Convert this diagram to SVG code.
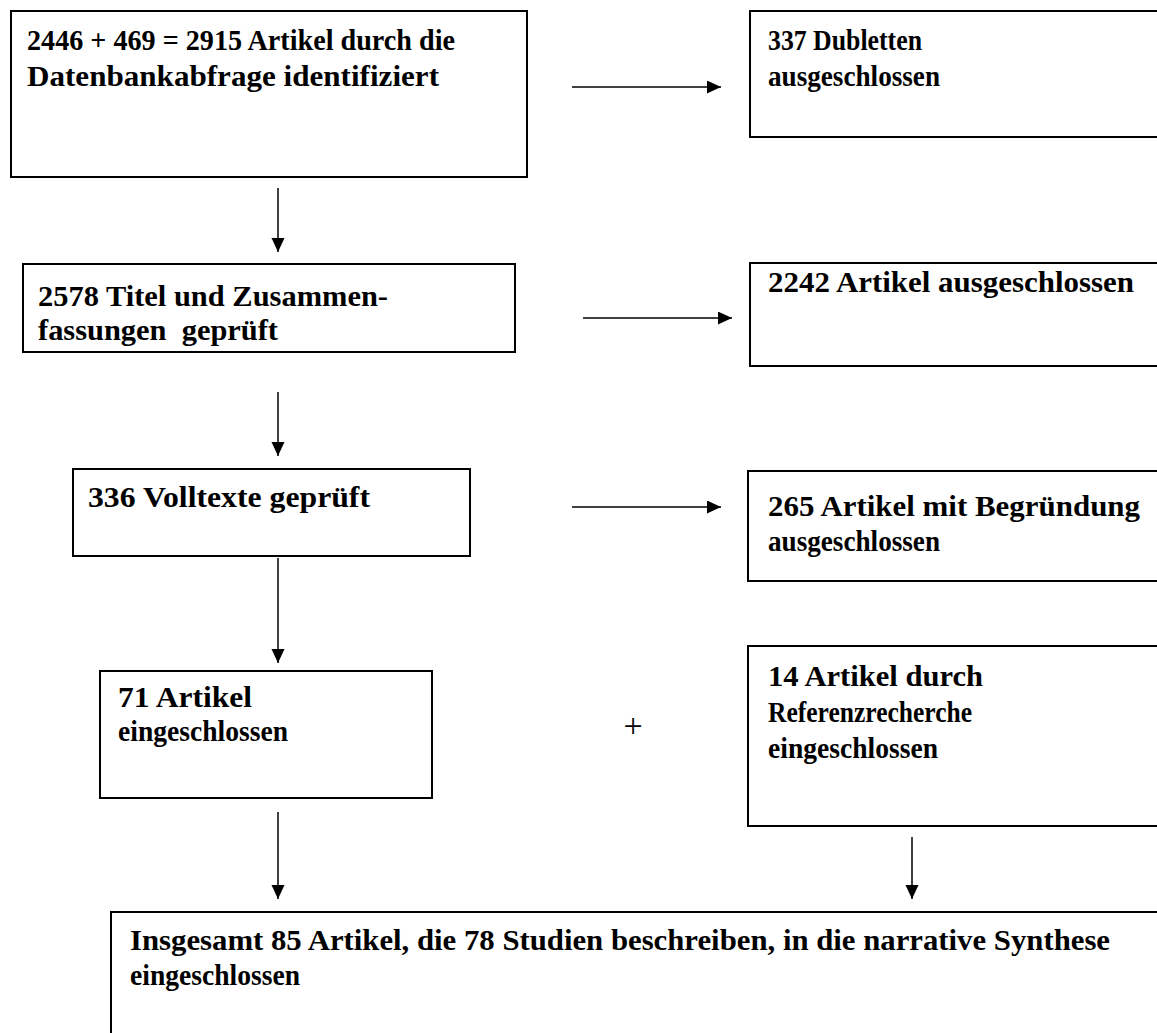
<svg xmlns="http://www.w3.org/2000/svg" width="1157" height="1033" viewBox="0 0 1157 1033">
<style>
.box{fill:#fff;stroke:#000;stroke-width:2}
.t{font-family:'Liberation Serif','Times New Roman',Tinos,serif;font-weight:bold;font-size:28.5px;fill:#000}
.plus{font-family:'Liberation Serif','Times New Roman',Tinos,serif;font-size:34px;fill:#000}
.c{stroke:#000;stroke-width:1.5;fill:none;marker-end:url(#ah)}
</style>
<defs>
<marker id="ah" markerUnits="userSpaceOnUse" markerWidth="16" markerHeight="14" refX="14" refY="6.5" orient="auto">
<path d="M0,0 L14,6.5 L0,13 Z" fill="#000"/>
</marker>
</defs>
<rect width="1157" height="1033" fill="#fff"/>
<g id="connectors">
<line class="c" x1="572" y1="87" x2="721" y2="87"/>
<line class="c" x1="583" y1="318" x2="732" y2="318"/>
<line class="c" x1="572" y1="507" x2="721" y2="507"/>
<line class="c" x1="278" y1="188" x2="278" y2="252"/>
<line class="c" x1="278" y1="392" x2="278" y2="456"/>
<line class="c" x1="278" y1="558" x2="278" y2="663"/>
<line class="c" x1="278" y1="812" x2="278" y2="899"/>
<line class="c" x1="912" y1="837" x2="912" y2="899"/>
</g>
<g id="n1">
<rect class="box" x="11" y="11" width="516" height="166"/>
<text class="t" x="27" y="50" textLength="428" lengthAdjust="spacingAndGlyphs">2446 + 469 = 2915 Artikel durch die</text>
<text class="t" x="27" y="86" textLength="412" lengthAdjust="spacingAndGlyphs">Datenbankabfrage identifiziert</text>
</g>
<g id="n2">
<rect class="box" x="750" y="11" width="430" height="126"/>
<text class="t" x="768" y="50" textLength="154" lengthAdjust="spacingAndGlyphs">337 Dubletten</text>
<text class="t" x="768" y="86" textLength="172" lengthAdjust="spacingAndGlyphs">ausgeschlossen</text>
</g>
<g id="n3">
<rect class="box" x="23" y="264" width="492" height="88"/>
<text class="t" x="38" y="306" textLength="350" lengthAdjust="spacingAndGlyphs">2578 Titel und Zusammen-</text>
<text class="t" x="38" y="340" textLength="240" lengthAdjust="spacingAndGlyphs" xml:space="preserve">fassungen  geprüft</text>
</g>
<g id="n4">
<rect class="box" x="750" y="263" width="430" height="103"/>
<text class="t" x="768" y="292" textLength="366" lengthAdjust="spacingAndGlyphs">2242 Artikel ausgeschlossen</text>
</g>
<g id="n5">
<rect class="box" x="73" y="469" width="397" height="87"/>
<text class="t" x="88" y="507" textLength="282" lengthAdjust="spacingAndGlyphs">336 Volltexte geprüft</text>
</g>
<g id="n6">
<rect class="box" x="748" y="471" width="430" height="110"/>
<text class="t" x="768" y="516" textLength="372" lengthAdjust="spacingAndGlyphs">265 Artikel mit Begründung</text>
<text class="t" x="768" y="551" textLength="172" lengthAdjust="spacingAndGlyphs">ausgeschlossen</text>
</g>
<g id="n7">
<rect class="box" x="100" y="671" width="332" height="127"/>
<text class="t" x="118" y="707" textLength="134" lengthAdjust="spacingAndGlyphs">71 Artikel</text>
<text class="t" x="118" y="741" textLength="170" lengthAdjust="spacingAndGlyphs">eingeschlossen</text>
</g>
<text class="plus" x="633" y="737" text-anchor="middle">+</text>
<g id="n8">
<rect class="box" x="748" y="646" width="430" height="180"/>
<text class="t" x="768" y="686" textLength="215" lengthAdjust="spacingAndGlyphs">14 Artikel durch</text>
<text class="t" x="768" y="722" textLength="204" lengthAdjust="spacingAndGlyphs">Referenzrecherche</text>
<text class="t" x="768" y="758" textLength="170" lengthAdjust="spacingAndGlyphs">eingeschlossen</text>
</g>
<g id="n9">
<rect class="box" x="111" y="912" width="1100" height="200"/>
<text class="t" x="130" y="950" textLength="980" lengthAdjust="spacingAndGlyphs">Insgesamt 85 Artikel, die 78 Studien beschreiben, in die narrative Synthese</text>
<text class="t" x="130" y="985" textLength="170" lengthAdjust="spacingAndGlyphs">eingeschlossen</text>
</g>
</svg>
